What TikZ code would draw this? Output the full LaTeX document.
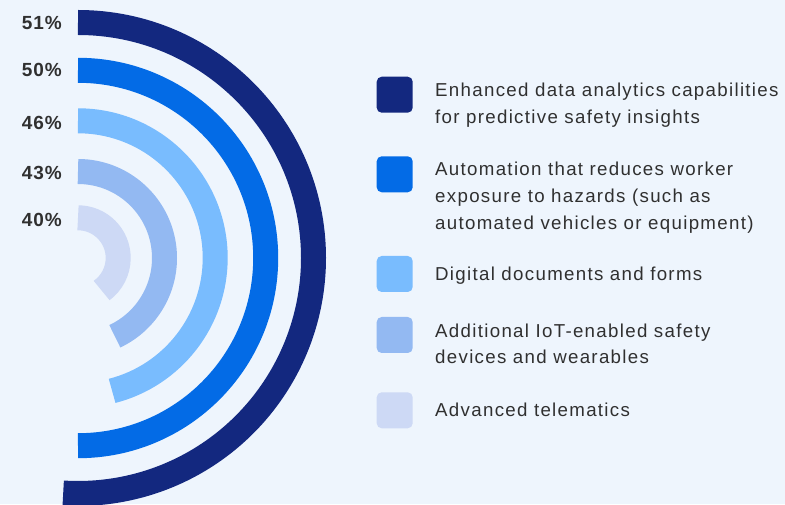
\documentclass[tikz,border=0pt]{standalone}
\usepackage{fontspec}
\setmainfont[LetterSpace=5]{Liberation Sans}
\newfontfamily\lgdfont[LetterSpace=7]{Liberation Sans}
\definecolor{bg}{HTML}{EEF5FD}
\definecolor{c1}{HTML}{13287F}
\definecolor{c2}{HTML}{036BE6}
\definecolor{c3}{HTML}{79BCFE}
\definecolor{c4}{HTML}{93B9F2}
\definecolor{c5}{HTML}{CDD9F5}
\definecolor{txt}{HTML}{303030}
\begin{document}
\begin{tikzpicture}[x=1pt,y=1pt,
  ring/.style={line width=25pt},
  pct/.style={anchor=base east, inner sep=0pt, text=txt, font=\fontsize{19}{19}\selectfont\bfseries},
  swatch/.style={rounded corners=5pt, minimum size=36pt, inner sep=0pt},
  lbl/.style={anchor=base west, inner sep=0pt, align=left, text=txt, font=\lgdfont\fontsize{18.7}{26.7}\selectfont}]
\fill[bg] (0,0) rectangle (785,504);
\useasboundingbox (0,0) rectangle (785,504);
\begin{scope}
\clip (0,0) rectangle (785,504);
\coordinate (c) at (78,246);
\draw[ring,c1] (c) ++(90:235.5) arc[start angle=90,end angle=-93.6,radius=235.5];
\draw[ring,c2] (c) ++(90:187.7) arc[start angle=90,end angle=-90,radius=187.7];
\draw[ring,c3] (c) ++(90:137.2) arc[start angle=90,end angle=-75.6,radius=137.2];
\draw[ring,c4] (c) ++(90:86.5) arc[start angle=90,end angle=-64.8,radius=86.5];
\draw[ring,c5] (c) ++(90:40.2) arc[start angle=90,end angle=-54,radius=40.2];
\end{scope}
\node[pct] (p1) at (62,474) {51\%};
\node[pct] (p2) at (62,427.3) {50\%};
\node[pct] (p3) at (62,374.7) {46\%};
\node[pct] (p4) at (62,324) {43\%};
\node[pct] (p5) at (62,277.3) {40\%};
\node[swatch,fill=c1] (s1) at (394.7,409.3) {};
\node[swatch,fill=c2] (s2) at (394.7,329.7) {};
\node[swatch,fill=c3] (s3) at (394.7,230) {};
\node[swatch,fill=c4] (s4) at (394.7,169) {};
\node[swatch,fill=c5] (s5) at (394.7,93.7) {};
\node[lbl] (t1) at (435,380.6) {Enhanced data analytics capabilities\\for predictive safety insights};
\node[lbl] (t2) at (435,274.6) {Automation that reduces worker\\exposure to hazards (such as\\automated vehicles or equipment)};
\node[lbl] (t3) at (435,223.3) {Digital documents and forms};
\node[lbl] (t4) at (435,140) {Additional IoT-enabled safety\\devices and wearables};
\node[lbl] (t5) at (435,87.3) {Advanced telematics};
\end{tikzpicture}
\end{document}
